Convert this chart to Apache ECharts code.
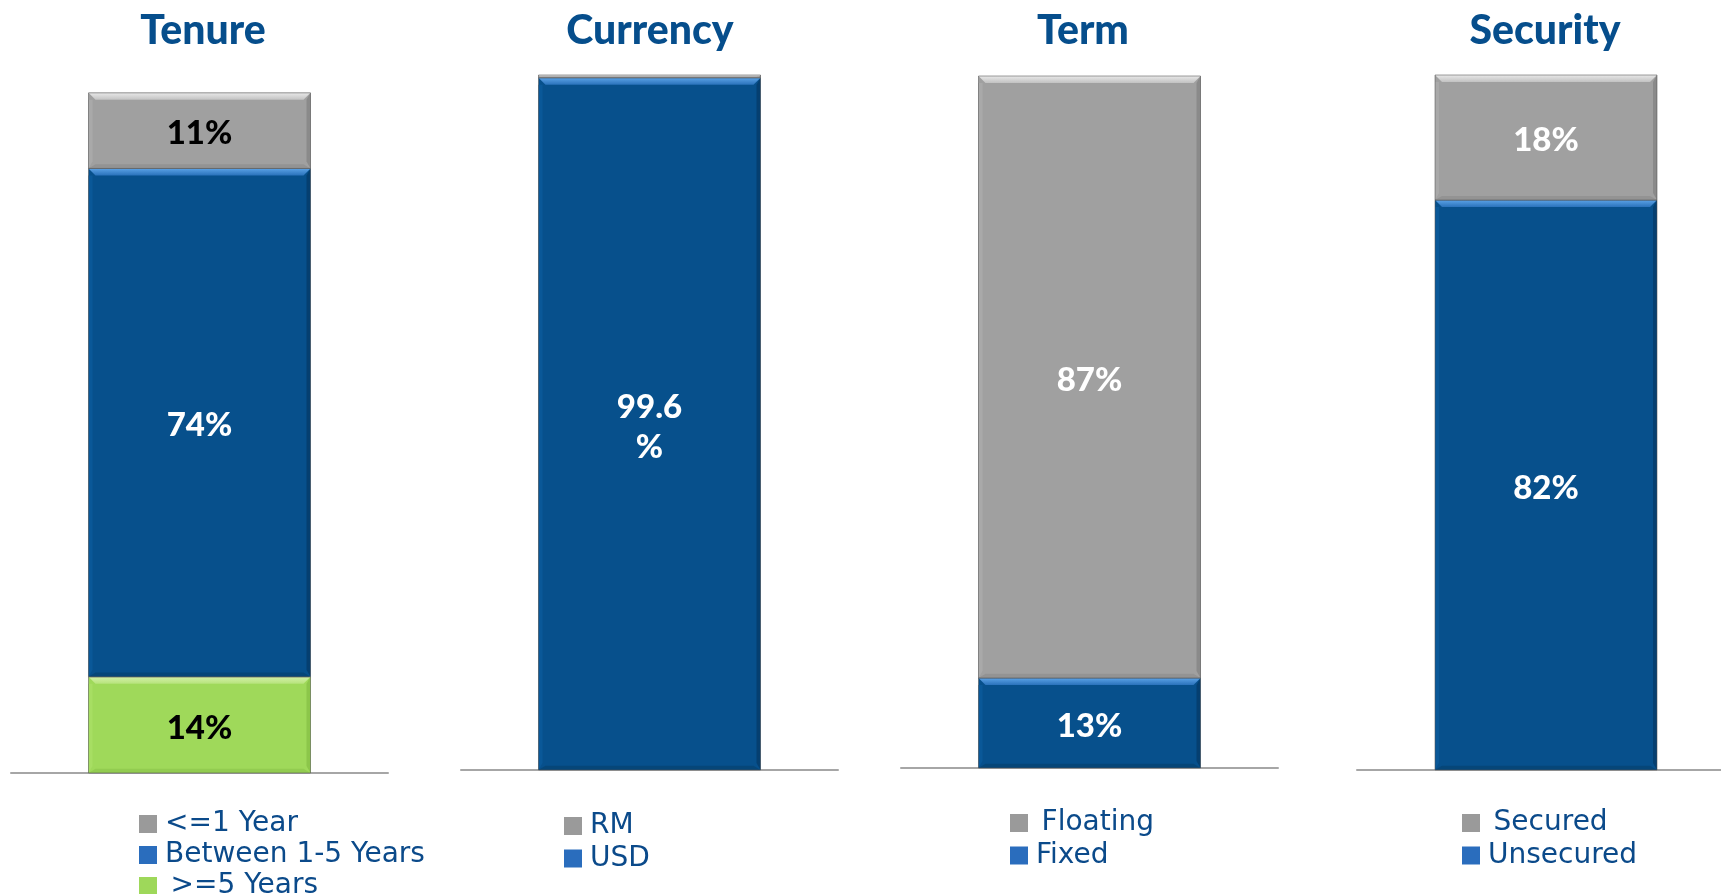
<!DOCTYPE html>
<html>
<head>
<meta charset="utf-8">
<script src="https://cdn.jsdelivr.net/npm/echarts@6/dist/echarts.min.js"></script>
<style>
  html, body { margin: 0; padding: 0; background: #ffffff; overflow: hidden; }
  /* the last panel's baseline runs past the right edge of the window */
  #chart { width: 1735px; height: 894px; }
</style>
</head>
<body>
<div id="chart"></div>
<script>
// ---- Data (percent of borrowings), each stack listed bottom to top ----
const panelTitles = ['Tenure', 'Currency', 'Term', 'Security'];

const tenureNames = ['>=5 Years', 'Between 1-5 Years', '<=1 Year'];
const tenureValues = [14, 74, 11];

const currencyNames = ['USD', 'RM'];
const currencyValues = [99.6, 0.4];

const termNames = ['Fixed', 'Floating'];
const termValues = [13, 87];

const securityNames = ['Unsecured', 'Secured'];
const securityValues = [82, 18];

// Legend order (top to bottom)
const tenureLegend = ['<=1 Year', 'Between 1-5 Years', '>=5 Years'];
const currencyLegend = ['RM', 'USD'];
const termLegend = ['Floating', 'Fixed'];
const securityLegend = ['Secured', 'Unsecured'];

// Legend entries typed with a small leading indent
const indentedLegend = ['>=5 Years', 'Floating', 'Secured'];

// ---- Styling ----
const BAR_WIDTH = 222;
const BEVEL = 7;
const TITLE_COLOR = '#064e8c';
const LEGEND_COLOR = '#0b4a8a';

const PALETTE = {
  blue:  { fill: '#07508c', top: ['#5ba2e6', '#2a72bb'], left: '#0a5898', right: '#053f70', bottom: '#064678', marker: '#2a6dbd' },
  gray:  { fill: '#a0a0a0', top: ['#e8e8e8', '#c2c2c2'], left: '#a9a9a9', right: '#8a8a8a', bottom: '#939393', marker: '#9a9a9a' },
  green: { fill: '#9fd95a', top: ['#d4f1a8', '#b6e37b'], left: '#a7de63', right: '#8cc64a', bottom: '#92cc50', marker: '#9ed85a' }
};

const KIND = {
  '<=1 Year': 'gray', 'Between 1-5 Years': 'blue', '>=5 Years': 'green',
  'RM': 'gray', 'USD': 'blue',
  'Floating': 'gray', 'Fixed': 'blue',
  'Secured': 'gray', 'Unsecured': 'blue'
};

// Label colour per series (dark text on the light segments of the tenure bar)
const LABEL_COLOR = {
  '<=1 Year': '#000000', '>=5 Years': '#000000'
};

const panels = [
  { names: tenureNames, values: tenureValues, legend: tenureLegend,
    left: 11, width: 377, top: 86, height: 687, titleX: 203,
    legendLeft: 134, legendTop: 805, legendGap: 3, hideLabel: [] },
  { names: currencyNames, values: currencyValues, legend: currencyLegend,
    left: 461, width: 377, top: 75, height: 695, titleX: 650,
    legendLeft: 559, legendTop: 807, legendGap: 4.5, hideLabel: ['RM'], wrapLabel: ['USD'] },
  { names: termNames, values: termValues, legend: termLegend,
    left: 901, width: 377, top: 76, height: 692, titleX: 1083,
    legendLeft: 1005, legendTop: 804, legendGap: 4.5, hideLabel: [] },
  { names: securityNames, values: securityValues, legend: securityLegend,
    left: 1357, width: 378, top: 75, height: 695, titleX: 1545,
    legendLeft: 1457, legendTop: 804, legendGap: 4.5, hideLabel: [] }
];

function bevelRenderer(segs) {
  return function (params, api) {
    const seg = segs[params.dataIndex];
    const pb = api.coord([0, seg.start]);
    const pt = api.coord([0, seg.end]);
    const half = BAR_WIDTH / 2;
    const x0 = pb[0] - half, x1 = pb[0] + half;
    const y0 = pt[1], y1 = pb[1];
    const h = y1 - y0;
    if (h <= 0) return;
    const b = Math.min(BEVEL, h / 2);
    const pal = PALETTE[seg.kind];
    return {
      type: 'group',
      children: [
        { type: 'polygon', shape: { points: [[x0, y0 + b], [x0 + 4, y0 + b], [x0 + 4, y1 - b], [x0, y1]] },
          style: { fill: pal.left } },
        { type: 'polygon', shape: { points: [[x1, y0], [x1, y1], [x1 - 4, y1 - b], [x1 - 4, y0 + b]] },
          style: { fill: pal.right } },
        { type: 'polygon', shape: { points: [[x0, y1], [x0 + b, y1 - b * 0.6], [x1 - b, y1 - b * 0.6], [x1, y1]] },
          style: { fill: pal.bottom } },
        { type: 'polygon', shape: { points: [[x0, y0], [x1, y0], [x1 - b, y0 + b], [x0 + b, y0 + b]] },
          style: { fill: new echarts.graphic.LinearGradient(0, 0, 0, 1, [
            { offset: 0, color: pal.top[0] }, { offset: 1, color: pal.top[1] }]) } },
        { type: 'rect', shape: { x: x0, y: y0, width: x1 - x0, height: h },
          style: { fill: 'none', stroke: 'rgba(80,80,80,0.55)', lineWidth: 1 } }
      ]
    };
  };
}

const grid = [], xAxis = [], yAxis = [], series = [], legend = [], graphic = [];

panels.forEach((p, i) => {
  grid.push({ left: p.left, width: p.width, top: p.top, height: p.height, containLabel: false });
  xAxis.push({
    gridIndex: i, type: 'category', data: [panelTitles[i]],
    axisLine: { show: true, lineStyle: { color: '#a6a6a6', width: 2 } },
    axisTick: { show: false }, axisLabel: { show: false }, splitLine: { show: false }
  });
  yAxis.push({
    gridIndex: i, type: 'value', min: 0, max: 100, show: false, splitLine: { show: false }
  });

  const segs = [];
  let acc = 0;
  p.names.forEach((name, k) => {
    const v = p.values[k];
    segs.push({ start: acc, end: acc + v, kind: KIND[name] });
    acc += v;
    const wrap = p.wrapLabel && p.wrapLabel.indexOf(name) >= 0;
    series.push({
      type: 'bar', name: name, stack: 'stack' + i,
      xAxisIndex: i, yAxisIndex: i,
      data: [v], barWidth: BAR_WIDTH,
      itemStyle: { color: PALETTE[KIND[name]].fill },
      emphasis: { disabled: true },
      label: {
        show: p.hideLabel.indexOf(name) < 0,
        position: 'inside',
        offset: [0, 3],
        formatter: (prm) => prm.value + (wrap ? '\n%' : '%'),
        color: LABEL_COLOR[name] || '#ffffff',
        fontFamily: 'Lato', fontWeight: 900, fontSize: 33,
        lineHeight: 40
      },
      z: 2
    });
  });

  series.push({
    type: 'custom', xAxisIndex: i, yAxisIndex: i, silent: true, z: 3,
    renderItem: bevelRenderer(segs),
    data: segs.map(s => [0, s.start, s.end])
  });

  legend.push({
    orient: 'vertical', left: p.legendLeft, top: p.legendTop, height: 140,
    itemWidth: 18, itemHeight: 18, itemGap: p.legendGap, icon: 'rect',
    selectedMode: false,
    data: p.legend.map(n => ({ name: n, itemStyle: { color: PALETTE[KIND[n]].marker } })),
    formatter: (n) => (indentedLegend.indexOf(n) >= 0 ? '\u2009' : '') + n,
    textStyle: { fontFamily: 'DejaVu Sans', fontSize: 28, color: LEGEND_COLOR, padding: [0, 0, 0, 3] }
  });

  graphic.push({
    type: 'text', x: p.titleX, y: 31,
    style: {
      text: panelTitles[i], fill: TITLE_COLOR,
      font: '900 41px Lato', textAlign: 'center', textVerticalAlign: 'middle'
    }
  });
});

const chart = echarts.init(document.getElementById('chart'), null, { renderer: 'canvas' });
chart.setOption({
  backgroundColor: '#ffffff',
  animation: false,
  grid, xAxis, yAxis, series, legend, graphic
});
</script>
</body>
</html>
